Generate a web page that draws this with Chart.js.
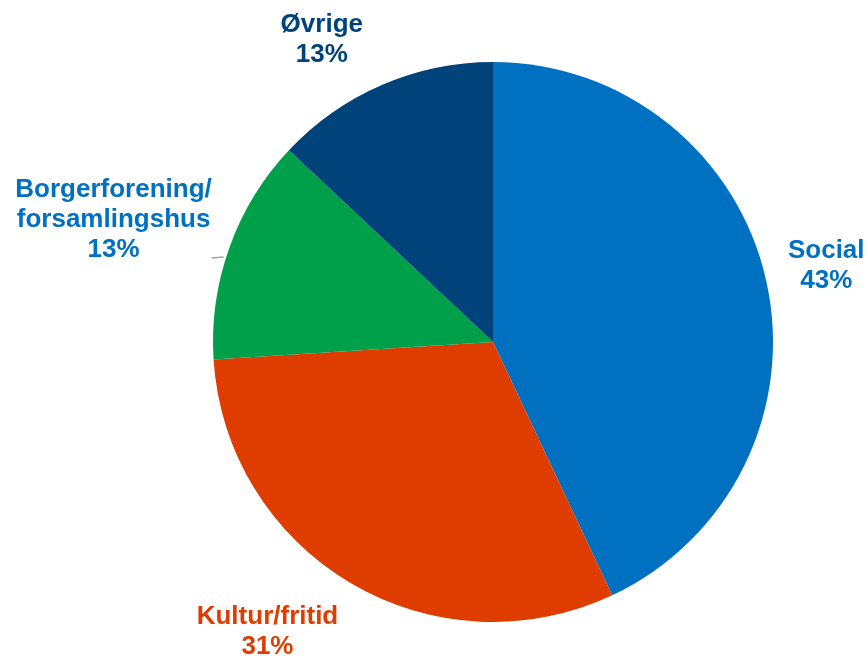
<!DOCTYPE html>
<html>
<head>
<meta charset="utf-8">
<script src="https://cdn.jsdelivr.net/npm/chart.js@4.4.1/dist/chart.umd.min.js"></script>
<style>
  html, body { margin: 0; padding: 0; background: #fff; }
  #wrap { width: 867px; height: 658px; }
</style>
</head>
<body>
<div id="wrap"><canvas id="myChart"></canvas></div>
<script>
const kategorier = [['Social'], ['Kultur/fritid'], ['Borgerforening/', 'forsamlingshus'], ['Øvrige']];
const andele = [43, 31, 13, 13];
const farver = ['#0070C0', '#DF3C00', '#00A04A', '#00437A'];
const tekstFarver = ['#0070C0', '#DF3C00', '#0070C0', '#00437A'];

// label offset from the slice's outer midpoint
const labelOffsets = [[60, -15], [-83, 49], [-116, -27], [-60, -45]];

const myChart = document.getElementById('myChart');

const labelPlugin = {
    id: 'pieLabels',
    afterDatasetsDraw(chart) {
        const ctx = chart.ctx;
        const meta = chart.getDatasetMeta(0);
        ctx.save();
        ctx.font = 'bold 26px "Liberation Sans", Arial, sans-serif';
        ctx.textAlign = 'center';
        ctx.textBaseline = 'middle';
        meta.data.forEach((arc, i) => {
            const mid = (arc.startAngle + arc.endAngle) / 2;
            const px = arc.x + Math.cos(mid) * arc.outerRadius;
            const py = arc.y + Math.sin(mid) * arc.outerRadius;
            const cx = px + labelOffsets[i][0];
            const cy = py + labelOffsets[i][1];
            const lines = kategorier[i].concat([andele[i] + '%']);
            const lh = 30;
            const top = cy - (lines.length - 1) * lh / 2;
            ctx.fillStyle = tekstFarver[i];
            lines.forEach((t, j) => ctx.fillText(t, cx, top + j * lh));
            if (i === 2) {
                // small leader line
                ctx.strokeStyle = '#A6A6A6';
                ctx.lineWidth = 1.5;
                ctx.beginPath();
                ctx.moveTo(px - 18, 258);
                ctx.lineTo(px - 6, 257);
                ctx.stroke();
            }
        });
        ctx.restore();
    }
};

new Chart(myChart, {
    type: 'pie',
    data: {
        labels: kategorier.map((k) => k.join(' ')),
        datasets: [{
            data: andele,
            backgroundColor: farver,
            borderWidth: 0,
        }],
    },
    options: {
        responsive: true,
        maintainAspectRatio: false,
        animation: false,
        layout: { padding: { top: 62, bottom: 36, left: 213, right: 94 } },
        plugins: {
            legend: { display: false },
            tooltip: { enabled: false },
        },
    },
    plugins: [labelPlugin],
});
</script>
</body>
</html>
